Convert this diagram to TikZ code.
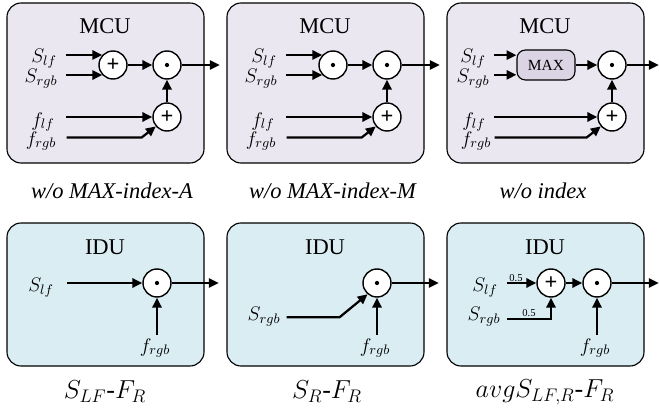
\RequirePackage{fix-cm}
\documentclass[tikz,border=0pt]{standalone}
\usepackage{fontspec}
\setmainfont{Liberation Serif}
\usetikzlibrary{arrows.meta}
\definecolor{mcubg}{HTML}{EAE7F0}
\definecolor{idubg}{HTML}{DAEDF2}
\definecolor{maxbg}{HTML}{DAD4E4}
\tikzset{
  >={Triangle[length=7pt,width=6.5pt]},
  blk/.style={draw,line width=0.8pt,rounded corners=10pt},
  op/.style={circle,draw,fill=white,line width=1pt,minimum size=0.7cm,inner sep=0pt,font=\fontsize{16}{16}\selectfont\bfseries},
  mul/.style={op,path picture={\fill[black] (path picture bounding box.center) circle (1.5pt);}},
  maxbox/.style={draw,fill=maxbg,line width=0.8pt,rounded corners=6pt,minimum width=1.45cm,minimum height=0.75cm,inner sep=0pt,font=\fontsize{11}{11}\selectfont},
  lb/.style={inner sep=0pt,font=\fontsize{14}{14}\selectfont},
  ttl/.style={inner sep=0pt,font=\fontsize{16}{16}\selectfont},
  capt/.style={inner sep=0pt,font=\fontsize{16}{16}\selectfont},
  mcapt/.style={inner sep=0pt,font=\fontsize{18.5}{18.5}\selectfont},
  wt/.style={inner sep=0.5pt,font=\fontsize{7.5}{7.5}\selectfont},
  every picture/.style={line width=1.6pt},
}

\begin{document}
\begin{tikzpicture}[x=0.025cm,y=-0.025cm]
\useasboundingbox (0,0) rectangle (659,413);
% MCU variants
\draw[blk,fill=mcubg] (7,3) rectangle (204,163);
\draw[blk,fill=mcubg] (227,3) rectangle (424,163);
\draw[blk,fill=mcubg] (447,3) rectangle (644,163);
% w/o MAX-index-A
\node[ttl] (t1) at (105,26) {MCU};
\node[lb] (sl1) at (44,59) {$S_{lf}$}; \node[lb] (sr1) at (41,79) {$S_{rgb}$};
\node[lb] (fl1) at (43,122) {$f_{lf}$}; \node[lb] (fr1) at (41,141) {$f_{rgb}$};
\node[op] (p1) at (113,65) {+}; \node[mul] (m1) at (167,65) {}; \node[op] (q1) at (167,117) {+};
\draw[<-] (p1.137) -- ++(-36,0); \draw[<-] (p1.223) -- ++(-36,0);
\draw[->] (p1) -- (m1); \draw[->] (q1) -- (m1); \draw[->] (m1.east) -- ++(38,0);
\draw[<-] (q1.west) -- ++(-86,0); \draw[<-] (q1.220) -- ++(-14,11) -- ++(-75,0);
\node[capt] (c1) at (112,191) {\textit{w/o MAX-index-A}};
% w/o MAX-index-M
\node[ttl] (t2) at (325,26) {MCU};
\node[lb] (sl2) at (264,59) {$S_{lf}$}; \node[lb] (sr2) at (261,79) {$S_{rgb}$};
\node[lb] (fl2) at (263,122) {$f_{lf}$}; \node[lb] (fr2) at (261,141) {$f_{rgb}$};
\node[mul] (p2) at (333,65) {}; \node[mul] (m2) at (387,65) {}; \node[op] (q2) at (387,117) {+};
\draw[<-] (p2.137) -- ++(-36,0); \draw[<-] (p2.223) -- ++(-36,0);
\draw[->] (p2) -- (m2); \draw[->] (q2) -- (m2); \draw[->] (m2.east) -- ++(38,0);
\draw[<-] (q2.west) -- ++(-86,0); \draw[<-] (q2.220) -- ++(-14,11) -- ++(-75,0);
\node[capt] (c2) at (333,191) {\textit{w/o MAX-index-M}};
% w/o index
\node[ttl] (t3) at (545,26) {MCU};
\node[lb] (sl3) at (473,59) {$S_{lf}$}; \node[lb] (sr3) at (473,79) {$S_{rgb}$};
\node[lb] (fl3) at (474,122) {$f_{lf}$}; \node[lb] (fr3) at (476,141) {$f_{rgb}$};
\node[maxbox] (mx3) at (546,65) {MAX};
\node[mul] (m3) at (612,65) {}; \node[op] (q3) at (612,117) {+};
\draw[<-] ([yshift=7pt]mx3.west) -- ++(-22,0); \draw[<-] ([yshift=-7pt]mx3.west) -- ++(-22,0);
\draw[->] (mx3) -- (m3); \draw[->] (q3) -- (m3); \draw[->] (m3.east) -- ++(32,0);
\draw[<-] (q3.west) -- ++(-103,0); \draw[<-] (q3.220) -- ++(-14,11) -- ++(-92,0);
\node[capt] (c3) at (543,191) {\textit{w/o index}};
% IDU variants
\draw[blk,fill=idubg] (7,223) rectangle (204,366);
\draw[blk,fill=idubg] (227,223) rectangle (424,366);
\draw[blk,fill=idubg] (447,223) rectangle (644,366);
% S_LF-F_R
\node[ttl] (t4) at (105,247) {IDU};
\node[lb] (sl4) at (41,288) {$S_{lf}$};
\node[mul] (n4) at (157,283) {}; \node[lb] (fr4) at (155,348) {$f_{rgb}$};
\draw[<-] (n4.west) -- ++(-75,0); \draw[<-] (n4.south) -- ++(0,37); \draw[->] (n4.east) -- ++(47,0);
\node[mcapt] (c4) at (105,392) {$S_{LF}$-$F_R$};
% S_R-F_R
\node[ttl] (t5) at (325,247) {IDU};
\node[lb] (sr5) at (264,317) {$S_{rgb}$};
\node[mul] (n5) at (377,283) {}; \node[lb] (fr5) at (375,348) {$f_{rgb}$};
\draw[<-] (n5.230) -- ++(-28,23) -- ++(-53,0);
\draw[<-] (n5.south) -- ++(0,37); \draw[->] (n5.east) -- ++(47,0);
\node[mcapt] (c5) at (327,392) {$S_R$-$F_R$};
% avg S_LF,R-F_R
\node[ttl] (t6) at (545,247) {IDU};
\node[lb] (sl6) at (485,288) {$S_{lf}$}; \node[lb] (sr6) at (484,317) {$S_{rgb}$};
\node[op] (s6) at (551,283) {+}; \node[mul] (n6) at (597,283) {};
\node[lb] (fr6) at (595,348) {$f_{rgb}$};
\draw[<-] (s6.west) -- ++(-29,0) node[wt,pos=0.7,above] (h1) {0.5};
\draw[<-] (s6.south) -- ++(0,21) -- ++(-44,0) node[wt,pos=0.5,above] (h2) {0.5};
\draw[->] (s6) -- (n6); \draw[<-] (n6.south) -- ++(0,37); \draw[->] (n6.east) -- ++(47,0);
\node[mcapt] (c6) at (545,392) {$avgS_{LF,R}$-$F_R$};
\end{tikzpicture}
\end{document}
